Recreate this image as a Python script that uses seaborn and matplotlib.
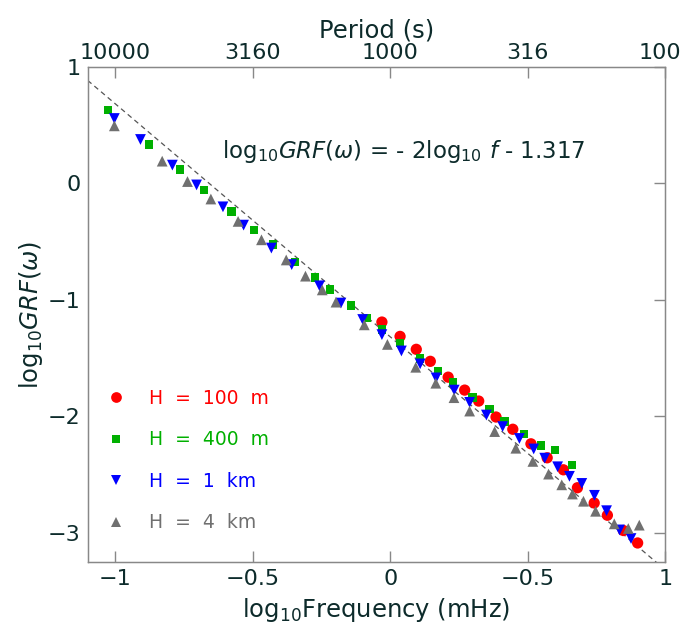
import numpy as np
import pandas as pd
import matplotlib
matplotlib.use("Agg")
import matplotlib.pyplot as plt
import matplotlib.transforms as mtransforms
import seaborn as sns

# ---------------- data ----------------
x_100m = [-0.030, 0.036, 0.095, 0.146, 0.211, 0.271, 0.322, 0.385, 0.446, 0.512,
          0.571, 0.630, 0.681, 0.742, 0.790, 0.848, 0.900]
y_100m = [-1.191, -1.314, -1.425, -1.528, -1.664, -1.775, -1.869, -2.006, -2.111, -2.236,
          -2.356, -2.459, -2.613, -2.744, -2.849, -2.980, -3.087]

x_400m = [-1.026, -0.876, -0.764, -0.678, -0.577, -0.496, -0.426, -0.345, -0.274, -0.218,
          -0.142, -0.084, -0.030, 0.035, 0.109, 0.173, 0.229, 0.300, 0.361, 0.416,
          0.486, 0.548, 0.600, 0.662]
y_400m = [0.630, 0.333, 0.117, -0.057, -0.242, -0.402, -0.524, -0.678, -0.809, -0.912,
          -1.049, -1.154, -1.254, -1.370, -1.504, -1.613, -1.709, -1.838, -1.940, -2.045,
          -2.154, -2.250, -2.288, -2.416]

x_1km = [-1.003, -0.908, -0.792, -0.704, -0.608, -0.533, -0.432, -0.358, -0.257, -0.179,
         -0.100, -0.030, 0.041, 0.109, 0.167, 0.233, 0.289, 0.350, 0.409, 0.470,
         0.522, 0.562, 0.609, 0.652, 0.697, 0.743, 0.787, 0.834, 0.876]
y_1km = [0.556, 0.376, 0.156, -0.014, -0.202, -0.359, -0.556, -0.698, -0.880, -1.028,
         -1.169, -1.299, -1.439, -1.550, -1.670, -1.775, -1.880, -1.989, -2.088, -2.190,
         -2.280, -2.359, -2.433, -2.515, -2.576, -2.678, -2.810, -2.975, -3.049]

x_4km = [-1.003, -0.829, -0.737, -0.652, -0.553, -0.468, -0.378, -0.308, -0.247, -0.197,
         -0.094, -0.010, 0.093, 0.166, 0.232, 0.289, 0.380, 0.457, 0.519, 0.576,
         0.624, 0.663, 0.703, 0.747, 0.815, 0.866, 0.906]
y_4km = [0.493, 0.190, 0.015, -0.135, -0.327, -0.485, -0.658, -0.797, -0.915, -1.020,
         -1.215, -1.383, -1.579, -1.716, -1.840, -1.955, -2.131, -2.274, -2.387, -2.496,
         -2.588, -2.667, -2.729, -2.815, -2.923, -2.963, -2.934]

series_labels = ["H  =  100  m", "H  =  400  m", "H  =  1  km", "H  =  4  km"]
series_colors = ["#ff0000", "#00b000", "#0000ff", "#707070"]
series_markers = ["o", "s", "v", "^"]
series_sizes = [66, 36, 60, 60]

# fit line: log10 GRF = slope * log10 f + intercept
fit_slope = -2.0
fit_intercept = -1.317
fit_x = [-1.1, 1.0]

x_ticks = [-1, -0.5, 0, 0.5, 1]
x_tick_labels = ["\u22121", "\u22120.5", "0", "\u22120.5", "1"]
y_ticks = [-3, -2, -1, 0, 1]
y_tick_labels = ["\u22123", "\u22122", "\u22121", "0", "1"]
period_labels = ["10000", "3160", "1000", "316", "100"]

# ---------------- build table ----------------
frames = []
for lab, xs, ys in zip(series_labels, [x_100m, x_400m, x_1km, x_4km],
                       [y_100m, y_400m, y_1km, y_4km]):
    frames.append(pd.DataFrame({"x": xs, "y": ys, "H": lab}))
df = pd.concat(frames, ignore_index=True)

# ---------------- plot ----------------
sns.set_style("white")
txt = "#0d2b2b"
plt.rcParams["font.family"] = ["DejaVu Sans"]
plt.rcParams["mathtext.fontset"] = "dejavusans"
plt.rcParams["text.color"] = txt
plt.rcParams["axes.labelcolor"] = txt
plt.rcParams["xtick.color"] = "#888888"
plt.rcParams["ytick.color"] = "#888888"
plt.rcParams["xtick.labelcolor"] = txt
plt.rcParams["ytick.labelcolor"] = txt

fig = plt.figure(figsize=(6.85, 6.30), dpi=100)
ax = fig.add_axes([0.128, 0.108, 0.843, 0.786])

fit_df = pd.DataFrame({"x": fit_x, "y": [fit_slope * v + fit_intercept for v in fit_x]})
sns.lineplot(data=fit_df, x="x", y="y", ax=ax, color="#555555", lw=0.9,
             linestyle=(0, (4, 3)), zorder=1)

handles = []
for lab, col, mk, sz in zip(series_labels, series_colors, series_markers, series_sizes):
    sub = df[df["H"] == lab]
    sns.scatterplot(data=sub, x="x", y="y", ax=ax, color=col, marker=mk, s=sz,
                    edgecolor="none", linewidth=0, zorder=3, legend=False)
    handles.append(plt.Line2D([], [], linestyle="none", marker=mk, color=col,
                              markersize=np.sqrt(sz) * 0.95, markeredgewidth=0))

ax.set_xlim(-1.1, 1.0)
ax.set_ylim(-3.25, 1.0)
ax.set_xticks(x_ticks)
ax.set_xticklabels(x_tick_labels)
ax.set_yticks(y_ticks)
ax.set_yticklabels(y_tick_labels)
ax.tick_params(axis="both", which="both", direction="in", length=8, width=1,
               labelsize=16, top=False, right=True, pad=5)

for sp in ax.spines.values():
    sp.set_color("#888888")
    sp.set_linewidth(1.0)

ax.set_xlabel(r"log$_{10}$Frequency (mHz)", fontsize=17.5, labelpad=5)
ax.set_ylabel(r"log$_{10}$$\mathit{GRF}(\omega)$", fontsize=17.5, labelpad=2)

# top axis: period
ax2 = ax.twiny()
ax2.set_xlim(ax.get_xlim())
ax2.set_xticks(x_ticks)
ax2.set_xticklabels(period_labels)
ax2.tick_params(axis="x", direction="in", length=8, width=1, labelsize=16, pad=3)
for sp in ax2.spines.values():
    sp.set_color("#888888")
ax2.set_xlabel("Period (s)", fontsize=17.5, labelpad=4)
# keep the last period label inside the canvas
last_lab = ax2.get_xticklabels()[-1]
last_lab.set_transform(last_lab.get_transform() +
                       mtransforms.ScaledTranslation(-5 / 100, 0, fig.dpi_scale_trans))

ax.text(0.548, 0.828,
        r"log$_{10}$$\mathit{GRF}(\omega)$ = - 2log$_{10}$ $\mathit{f}$ - 1.317",
        transform=ax.transAxes, ha="center", va="center", fontsize=16.5, color=txt)

leg = ax.legend(handles, series_labels, loc="lower left",
                bbox_to_anchor=(0.02, 0.045), frameon=False, fontsize=13.5,
                labelspacing=1.2, handlelength=1.0, handletextpad=1.25,
                borderaxespad=0)
for t, c in zip(leg.get_texts(), series_colors):
    t.set_color(c)

fig.savefig("out.png", dpi=100)
